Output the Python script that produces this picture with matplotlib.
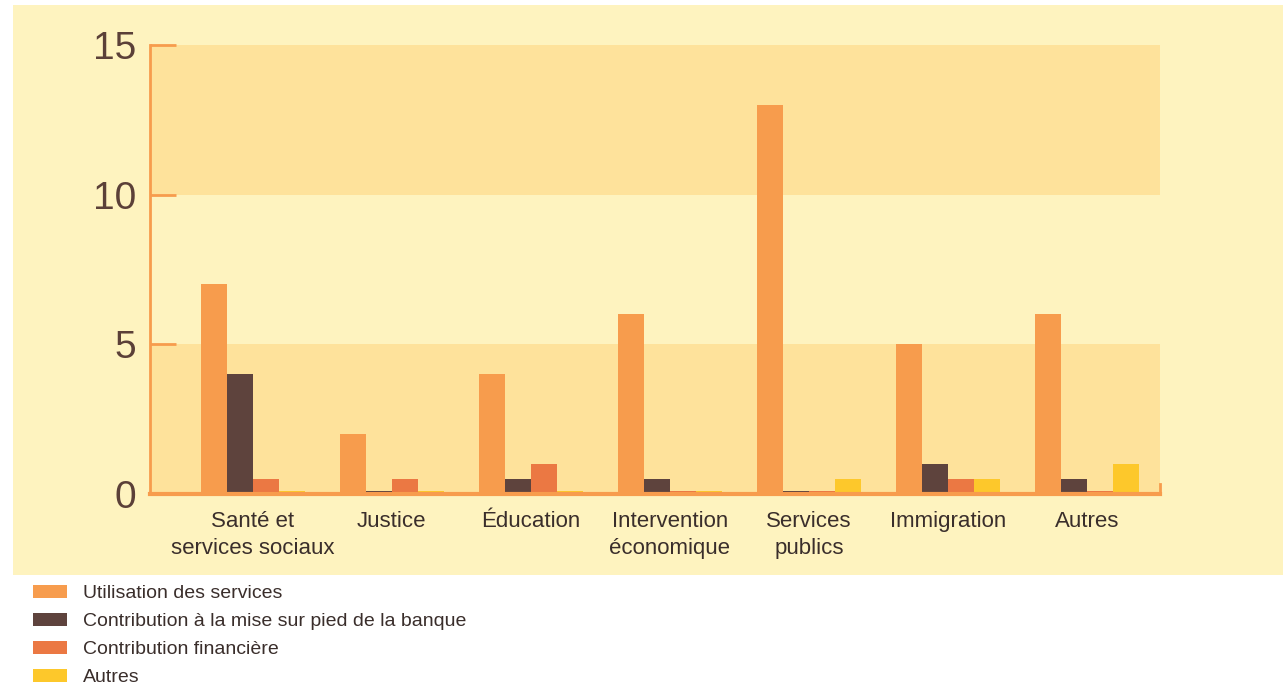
import matplotlib
matplotlib.use('Agg')
import matplotlib.pyplot as plt
from matplotlib.patches import Patch
import numpy as np

# categories and values
categories = ['Santé et\nservices sociaux', 'Justice', 'Éducation',
              'Intervention\néconomique', 'Services\npublics', 'Immigration', 'Autres']
utilisation = [7, 2, 4, 6, 13, 5, 6]
contribution_banque = [4, 0.1, 0.5, 0.5, 0.1, 1, 0.5]
contribution_fin = [0.5, 0.5, 1, 0.1, 0.1, 0.5, 0.1]
autres = [0.1, 0.1, 0.1, 0.1, 0.5, 0.5, 1]
series_names = ['Utilisation des services', 'Contribution à la mise sur pied de la banque',
                'Contribution financière', 'Autres']
yticks = [0, 5, 10, 15]

colors = ['#F79C4D', '#5E433D', '#EB7843', '#FDC82B']
bg = '#FEF3BF'
band = '#FEE29B'
txt = '#3A2E2B'
axis_col = '#F79C4D'

plt.rcParams['font.family'] = ['Liberation Sans', 'DejaVu Sans']

fig = plt.figure(figsize=(12.87, 6.91), dpi=100)
fig.patch.set_facecolor('white')

# yellow panel behind the chart
bg_ax = fig.add_axes([13 / 1287, 1 - 575 / 691, 1270 / 1287, 570 / 691], zorder=0)
bg_ax.set_facecolor(bg)
for s in bg_ax.spines.values():
    s.set_visible(False)
bg_ax.set_xticks([])
bg_ax.set_yticks([])

ax = fig.add_axes([150 / 1287, 1 - 494 / 691, 1010 / 1287, 449 / 691], zorder=2)
ax.set_facecolor(bg)
ax.axhspan(0, 5, color=band, zorder=0, lw=0)
ax.axhspan(10, 15, color=band, zorder=0, lw=0)

x = np.arange(len(categories))
w = 0.187
data = [utilisation, contribution_banque, contribution_fin, autres]
for i, (vals, c) in enumerate(zip(data, colors)):
    ax.bar(x + (i - 1.5) * w, vals, width=w, color=c, zorder=2, lw=0)

ax.set_xlim(-0.74, 6.525)
ax.set_ylim(0, 15)
ax.set_yticks(yticks)
ax.set_yticklabels([str(t) for t in yticks], fontsize=28, color='#5B4038')
ax.tick_params(axis='y', direction='in', length=19, width=2, color=axis_col, pad=10)
ax.set_xticks(x)
ax.set_xticklabels(categories, fontsize=16, color=txt, linespacing=1.4)
ax.tick_params(axis='x', length=0, pad=12)

ax.spines['top'].set_visible(False)
ax.spines['left'].set_color(axis_col)
ax.spines['left'].set_linewidth(2)
ax.spines['bottom'].set_color(axis_col)
ax.spines['bottom'].set_linewidth(3)
ax.spines['right'].set_color(axis_col)
ax.spines['right'].set_linewidth(2)
ax.spines['right'].set_bounds(0, 0.35)

handles = [Patch(facecolor=c, edgecolor='none') for c in colors]
fig.legend(handles, series_names, loc='upper left', bbox_to_anchor=(33 / 1287, 1 - 585 / 691),
           frameon=False, fontsize=14, handlelength=1.75, handleheight=0.62,
           handletextpad=0.8, labelspacing=0.56, labelcolor=txt, borderaxespad=0,
           borderpad=0)

fig.savefig('out.png', dpi=100)
